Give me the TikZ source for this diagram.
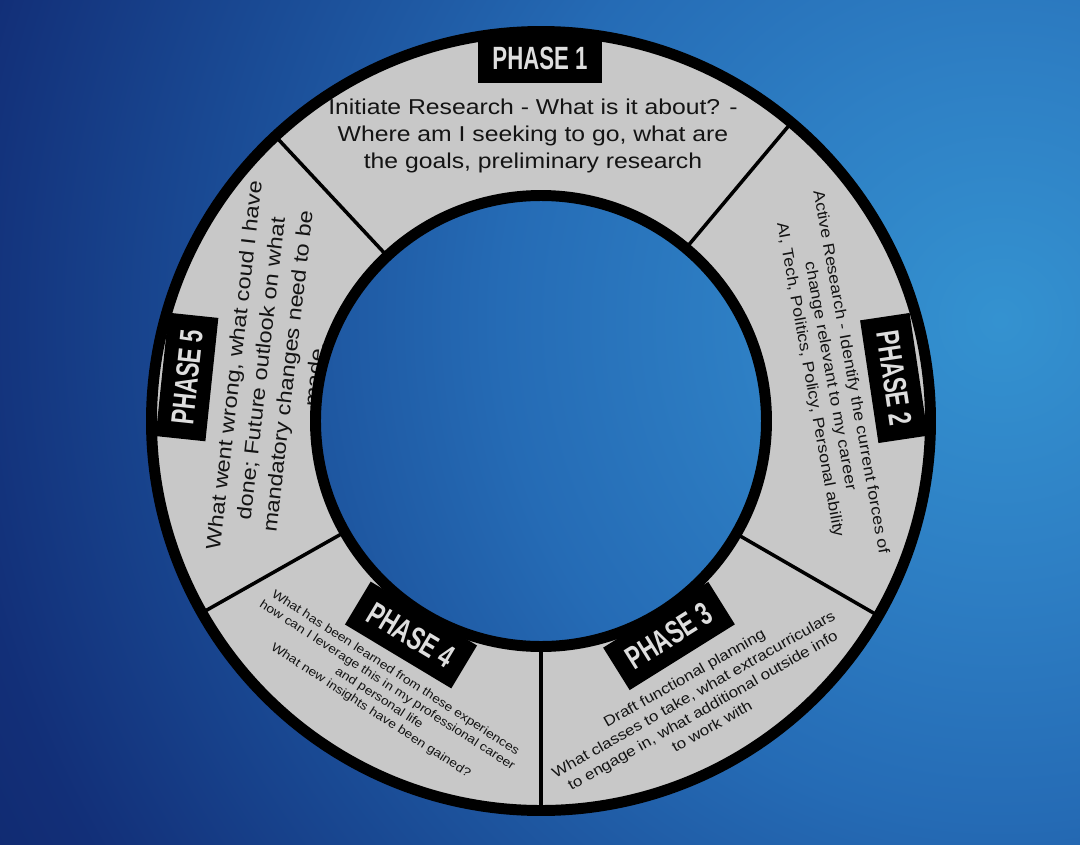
\documentclass[tikz,border=0pt]{standalone}
\usepackage{fontspec}
\setmainfont{Liberation Sans}[FakeStretch=1.15]
\newfontfamily\phasefont{Liberation Sans}[FakeStretch=0.69]
\usepackage{tikz}
\usetikzlibrary{positioning}
\definecolor{ringgray}{RGB}{200,200,200}
\definecolor{labelgray}{RGB}{222,222,222}
\definecolor{inktext}{RGB}{20,20,20}
\pgfdeclareradialshading{bgglow}{\pgfpoint{0bp}{0bp}}{rgb(0bp)=(0.204,0.573,0.816); rgb(5.2bp)=(0.18,0.5,0.77); rgb(10.4bp)=(0.145,0.42,0.71); rgb(16.7bp)=(0.1,0.29,0.58); rgb(21.9bp)=(0.071,0.184,0.47); rgb(25bp)=(0.063,0.157,0.43); rgb(50bp)=(0.063,0.157,0.43)}
\newcommand{\bgfill}{\shade[shading=bgglow] (459,101) circle (1200)}

\begin{document}
\begin{tikzpicture}[
x=0.025cm, y=0.025cm,
PhaseBox/.style={fill=black,text=labelgray,minimum width=3.1cm,minimum height=1.25cm,inner sep=0pt,font=\phasefont\bfseries\fontsize{22.9}{24}\selectfont},
PhaseText/.style={align=center,text=inktext,inner sep=0pt},
Dividers/.style={draw=black,line width=2.5pt},
RingLine/.style={draw=black,line width=7.8pt}
]
\useasboundingbox (-541,-423) rectangle (539,421);
\clip (-541,-423) rectangle (539,421);

% background
\bgfill;

\coordinate (O) at (0,0);

% ring
\fill[ringgray] (O) circle (389.5);

\draw[Dividers] (133:225) -- (133:392);
\draw[Dividers] (50:225) -- (50:392);
\draw[Dividers] (-30:225) -- (-30:392);
\draw[Dividers] (-90:225) -- (-90:392);
\draw[Dividers] (209.5:225) -- (209.5:392);

% texts
\node[PhaseText, font=\fontsize{15.3}{19.2}\selectfont] (TextOne) at (-8,285)
{Initiate Research - What is it about? -\\Where am I seeking to go, what are\\the goals, preliminary research};
\node[PhaseText, rotate=-79.7, font=\fontsize{11.1}{14.7}\selectfont] (TextTwo) at (289,45)
{Active Research - Identify the current forces of\\change relevant to my career\\AI, Tech, Politics, Policy, Personal ability};
\node[PhaseText, rotate=29.6, font=\fontsize{10.5}{13.2}\selectfont] (TextThree) at (157,-281)
{Draft functional planning\\What classes to take, what extracurriculars\\to engage in, what additional outside info\\to work with};
\node[PhaseText, rotate=-33, font=\fontsize{8.6}{10.7}\selectfont] (TextFour) at (-158,-271)
{What has been learned from these experiences\\how can I leverage this in my professional career\\and personal life\\What new insights have been gained?};
\node[PhaseText, rotate=83.5, font=\fontsize{14.5}{19.2}\selectfont] (TextFive) at (-267,51)
{What went wrong, what coud I have\\done; Future outlook on what\\mandatory changes need to be\\made.};

% phase labels
\node[PhaseBox] (PhaseOne) at (-1,363) {PHASE 1};
\node[PhaseBox, rotate=-81.5] (PhaseTwo) at (353,43) {PHASE 2};
\node[PhaseBox, rotate=32] (PhaseThree) at (128,-215) {PHASE 3};
\node[PhaseBox, rotate=-31] (PhaseFour) at (-130,-214) {PHASE 4};
\node[PhaseBox, rotate=84] (PhaseFive) at (-354,44) {PHASE 5};

% inner hole
\begin{scope}
\clip (O) circle (225.5);
\bgfill;
\end{scope}

\draw[RingLine] (O) circle (225.5);
\draw[RingLine] (O) circle (389.5);

\end{tikzpicture}
\end{document}
